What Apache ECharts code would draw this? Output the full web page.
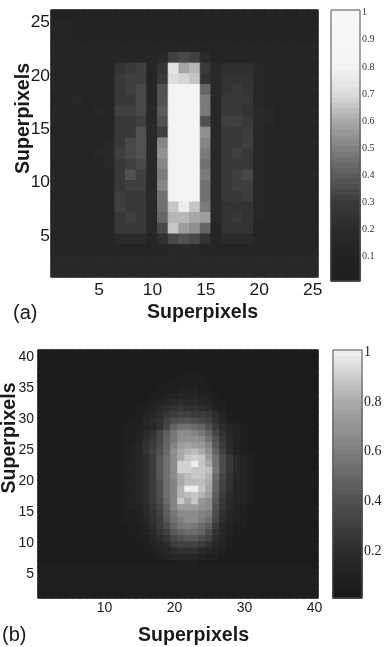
<!DOCTYPE html>
<html>
<head>
<meta charset="utf-8">
<style>html,body{margin:0;padding:0;background:#fff}#main{width:384px;height:647px;filter:blur(0.4px)}</style>
<script src="https://cdn.jsdelivr.net/npm/echarts@6/dist/echarts.min.js"></script>
</head>
<body>
<div id="main"></div>
<script>
// cell values, one char per cell, base 36 over 35 = 0..1
// rows run top to bottom, spaces only group the columns
var rowsA = [
  "444444 444 4 4 444 4 4 444 4 44444", // 25
  "554444 444 4 4 444 4 4 444 4 44444",
  "554444 444 4 4 444 4 4 444 4 44444",
  "555555 555 5 5 555 5 5 555 5 55555",
  "555555 555 5 6 bcb 7 5 555 5 55555", // 21
  "555555 9ab 5 9 qlm a 6 888 6 55555", // 20
  "555555 abb 5 a pon 9 6 999 6 55555",
  "555555 abc 5 d sss f 6 9a9 6 55555",
  "556555 aac 5 d sss h 6 aaa 6 55555",
  "555565 bbc 6 e sss h 6 aa9 7 65555",
  "555555 aab 6 d sss d 6 bba 7 65555", // 15
  "555555 aad 6 b sss j 6 aab 6 55555",
  "555556 acd 6 i sss i 6 aab 6 55555",
  "555566 bcd 6 j sss h 6 aba 6 55555",
  "555556 abc 6 i sss g 6 aaa 6 55555",
  "555555 adb 6 h sss h 6 abc 6 55555", // 10
  "555555 abb 6 i sss g 6 abb 6 55555",
  "555555 baa 7 g sss g 6 aab 6 55555",
  "555555 baa 6 g nrn h 6 999 6 55555",
  "555555 aba 6 f mml k 6 9a9 6 55555",
  "555555 aaa 6 c nkj f 5 999 5 55555", // 5
  "555555 777 5 8 cdc 9 5 777 5 55555",
  "555555 555 5 5 666 5 5 555 5 55555",
  "666666 666 6 6 666 6 6 666 6 66666",
  "666666 666 6 6 666 6 6 666 6 66666"  // 1
];
var rowsB = [
  "22222 22222 22222 22222 22222 22222 22222 22222", // 40
  "22222 22222 22222 22222 22222 22222 22222 22222",
  "22222 22222 22222 22222 22222 22222 22222 22222",
  "22222 22222 22222 22222 22222 22222 22222 22222",
  "22222 22222 22222 22222 33332 22222 22222 22222", // 36
  "22222 22222 22222 22233 33333 22222 22222 22222",
  "22222 22222 22222 22333 44433 22222 22222 22222",
  "22222 22222 22222 23344 55544 32222 22222 22222",
  "22222 22222 22222 23456 76654 33222 22222 22222",
  "22222 22222 22223 34678 98876 43222 22222 22222",
  "22222 22222 22223 4579a bbaa9 74322 22222 22222", // 30
  "22222 22222 22233 568bd eedcb 85322 22222 22222",
  "22222 22222 22334 568ch jjihe a7543 22222 22222",
  "22222 22222 22334 68cgk nnmkh c8543 22222 22222",
  "22222 22222 22334 79chk ooonj e9643 22222 22222",
  "22222 22222 22345 8adhm qrqpm fa643 22222 22222", // 25
  "22222 22222 22345 8beio stuso hb743 22222 22222",
  "22222 22222 22345 7afjn svwvq jd964 32222 22222",
  "22222 22222 22345 7afjn wwzvs jd964 32222 22222",
  "22222 22222 22345 7afjn wwvvu kd964 32222 22222",
  "22222 22222 22345 7afjn suvvt ic864 32222 22222", // 20
  "22222 22222 22345 7aejm suuus hb854 32222 22222",
  "22222 22222 22345 7aejm tzzvr hb854 32222 22222",
  "22222 22222 22345 7aejm tuvtq ga754 32222 22222",
  "22222 22222 22345 7adim vsvpn f9654 32222 22222",
  "22222 22222 22344 69chm qqqon e9643 22222 22222", // 15
  "22222 22222 22334 68bgk nnnml d8543 22222 22222",
  "22222 22222 22334 58afj lnnlj c7543 22222 22222",
  "22222 22222 22233 47adh klkig a6433 22222 22222",
  "22222 22222 22233 469bf hiihd 85432 22222 22222",
  "22222 22222 22223 3579c effdb 75322 22222 22222", // 10
  "22222 22222 22222 3457a bbba8 54322 22222 22222",
  "22222 22222 22222 33457 88865 43222 22222 22222",
  "22222 22222 22222 22345 55543 32222 22222 22222",
  "22222 22222 22222 22222 33322 22222 22222 22222",
  "33333 33333 33333 33333 33333 33333 33333 33333", // 5
  "33333 33333 33333 33333 33333 33333 33333 33333",
  "33333 33333 33333 33333 33333 33333 33333 33333",
  "33333 33333 33333 33333 33333 33333 33333 33333",
  "33333 33333 33333 33333 33333 33333 33333 33333"
];
var cellsA = ['1','2','3','4','5','6','7','8','9','10','11','12','13','14','15','16','17','18','19','20','21','22','23','24','25'];
var cellsB = ['1','2','3','4','5','6','7','8','9','10','11','12','13','14','15','16','17','18','19','20','21','22','23','24','25','26','27','28','29','30','31','32','33','34','35','36','37','38','39','40'];
var xTicksA = ['5','10','15','20','25'];
var yTicksA = ['5','10','15','20','25'];
var xTicksB = ['10','20','30','40'];
var yTicksB = ['5','10','15','20','25','30','35','40'];
var barLevels = ['0.02','0.04','0.06','0.08','0.10','0.12','0.14','0.16','0.18','0.20','0.22','0.24','0.26','0.28','0.30','0.32','0.34','0.36','0.38','0.40','0.42','0.44','0.46','0.48','0.50','0.52','0.54','0.56','0.58','0.60','0.62','0.64','0.66','0.68','0.70','0.72','0.74','0.76','0.78','0.80','0.82','0.84','0.86','0.88','0.90','0.92','0.94','0.96','0.98','1.00'];
var barTicksA = ['0.10','0.20','0.30','0.40','0.50','0.60','0.70','0.80','0.90','1.00'];
var barTicksB = ['0.20','0.40','0.60','0.80','1.00'];
var grayA = ['#1e1e1e','#222222','#2a2a2a','#3a3a3a','#5a5a5a','#808080','#a8a8a8','#dcdcdc','#f4f4f4','#f6f6f6','#f8f8f8'];
var grayB = ['#161616','#2c2c2c','#505050','#7e7e7e','#aaaaaa','#eeeeee'];
var axisTitle = 'Superpixels';

// same colour on the border closes the seams between fractional cells
function item(x, y, v, ramp) {
  var c = echarts.color.lerp(v, ramp);
  return { value: [x, y, v], itemStyle: { color: c, borderColor: c, borderWidth: 1 } };
}
function cells(rows, ramp) {
  var out = [];
  rows.forEach(function (row, i) {
    row.replace(/ /g, '').split('').forEach(function (ch, j) {
      out.push(item(j, rows.length - 1 - i, parseInt(ch, 36) / 35, ramp));
    });
  });
  return out;
}
function barCells(ramp) {
  return barLevels.map(function (v, i) { return item(0, i, parseFloat(v), ramp); });
}
function picker(list, ticks) {
  return function (idx) { return ticks.indexOf(list[idx]) >= 0; };
}
function sans(size, bold) {
  return { fontFamily: 'Liberation Sans', fontSize: size, fontWeight: bold ? 'bold' : 'normal', color: '#1a1a1a' };
}
// namePad pushes the title along the axis, it is not centred on the plot in the picture
function mapAxis(list, ticks, size, margin, namePad, extra) {
  var label = sans(size);
  label.margin = margin;
  label.interval = picker(list, ticks);
  label.hideOverlap = false;
  var nameStyle = sans(19.6, true);
  nameStyle.padding = [0, 0, 0, namePad];
  return Object.assign({
    type: 'category', data: list,
    axisLine: { show: false }, axisTick: { show: false }, splitLine: { show: false },
    axisLabel: label,
    name: axisTitle, nameLocation: 'middle', nameMoveOverlap: false, nameTextStyle: nameStyle
  }, extra);
}
function barY(gridIndex, ticks, size, color, margin) {
  return {
    type: 'category', data: barLevels, gridIndex: gridIndex, position: 'right',
    axisLine: { show: false },
    axisTick: { show: true, inside: true, length: 2, alignWithLabel: true, interval: picker(barLevels, ticks), lineStyle: { color: '#333' } },
    axisLabel: {
      interval: picker(barLevels, ticks), margin: margin, hideOverlap: false,
      fontFamily: 'Liberation Serif', fontSize: size, color: color,
      formatter: function (v) { return v === '1.00' ? '1' : String(parseFloat(v)); }
    }
  };
}
function barX(gridIndex) {
  return { type: 'category', data: ['0'], gridIndex: gridIndex, axisLine: { show: false }, axisTick: { show: false }, axisLabel: { show: false } };
}
function heat(x, y, data) {
  return { type: 'heatmap', xAxisIndex: x, yAxisIndex: y, data: data, progressive: 0, emphasis: { disabled: true } };
}
function lowered(axis, lineHeight) {
  axis.axisLabel.verticalAlign = 'top';
  axis.axisLabel.lineHeight = lineHeight;
  return axis;
}

var myChart = echarts.init(document.getElementById('main'), null, { renderer: 'canvas' });
var option = {
  animation: false,
  backgroundColor: '#fff',
  title: [
    { text: '(a)', left: 13, top: 303, padding: 0, textStyle: sans(20) },
    { text: '(b)', left: 2, top: 625, padding: 0, textStyle: sans(20) }
  ],
  grid: [
    { left: 51, top: 10, width: 267, height: 267, show: false, outerBoundsMode: 'none' },
    { left: 331, top: 10, width: 29, height: 271, show: true, z: 5, backgroundColor: 'transparent', borderColor: '#555', borderWidth: 1, outerBoundsMode: 'none' },
    { left: 38, top: 350, width: 280, height: 248, show: false, outerBoundsMode: 'none' },
    { left: 333, top: 350, width: 29, height: 248, show: true, z: 5, backgroundColor: 'transparent', borderColor: '#555', borderWidth: 1, outerBoundsMode: 'none' }
  ],
  xAxis: [
    mapAxis(cellsA, xTicksA, 17.4, 5, 36, { gridIndex: 0, nameGap: 26 }),
    barX(1),
    mapAxis(cellsB, xTicksB, 14, 3, 31, { gridIndex: 2, nameGap: 28 }),
    barX(3)
  ],
  yAxis: [
    lowered(mapAxis(cellsA, yTicksA, 17.4, 1, 50, { gridIndex: 0, nameGap: 17 }), 14),
    barY(1, barTicksA, 10, '#333', 2),
    lowered(mapAxis(cellsB, yTicksB, 14, 4, 72, { gridIndex: 2, nameGap: 18 }), 8),
    barY(3, barTicksB, 14, '#1a1a1a', 2)
  ],
  series: [
    heat(0, 0, cells(rowsA, grayA)),
    heat(1, 1, barCells(grayA)),
    heat(2, 2, cells(rowsB, grayB)),
    heat(3, 3, barCells(grayB))
  ]
};
myChart.setOption(option);
</script>
</body>
</html>
